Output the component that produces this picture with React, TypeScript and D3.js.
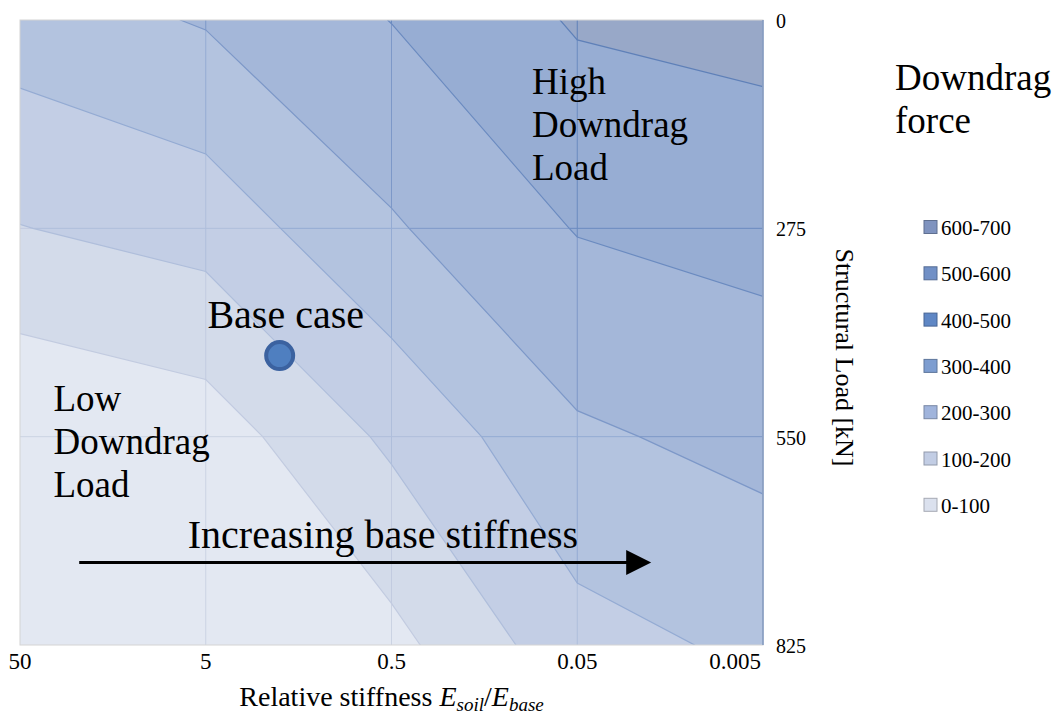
import * as d3 from "d3";

// --- data ---
const ratios = [50, 5, 0.5, 0.05, 0.005];
const ratioLabels = ["50", "5", "0.5", "0.05", "0.005"];
const loads = [0, 275, 550, 825];
const loadLabels = ["0", "275", "550", "825"];

// downdrag force [kN], one row per structural load, one value per stiffness ratio
const force0 = [350, 408, 502, 610, 631];
const force275 = [197, 240, 389, 505, 534];
const force550 = [5, 47, 220, 385, 430];
const force825 = [0, 10, 70, 264, 321];

const thresholds = [0, 100, 200, 300, 400, 500, 600];
const bandLabels = ["0-100", "100-200", "200-300", "300-400", "400-500", "500-600", "600-700"];

const baseCase = { ratio: 2, load: 443 };

// --- styles ---
const W = 1055;
const H = 724;
const PLOT = { left: 20, top: 20, right: 763, bottom: 645 };
const FONT = "'Liberation Serif', 'Times New Roman', serif";

const BAND_FILL = ["#e3e8f2", "#d3dbea", "#c3cee5", "#b3c3df", "#a4b7d9", "#97add3", "#98a8c8"];
const BAND_LINE = ["#cbd3e3", "#c2cbe0", "#afbedb", "#94abd3", "#7d98c8", "#6b8bc0", "#5f80b8"];
const SWATCH = ["#dbe1ee", "#c2cde4", "#a0b4dc", "#7d9dd0", "#5f87c5", "#7190c6", "#7f93bf"];

const LEGEND = { x: 924, y: 227, step: 46.3, box: 13, fontSize: 21 };

export default function App() {
  const x = d3.scaleLog().domain([ratios[0], ratios[ratios.length - 1]]).range([PLOT.left, PLOT.right]);
  const y = d3.scaleLinear().domain([loads[0], loads[loads.length - 1]]).range([PLOT.top, PLOT.bottom]);

  // d3.contours puts value i at grid coordinate i + 0.5
  const gx = d3.scaleLinear().domain([0.5, ratios.length - 0.5]).range([x(ratios[0]), x(ratios[ratios.length - 1])]);
  const gy = d3.scaleLinear().domain([0.5, loads.length - 0.5]).range([y(loads[0]), y(loads[loads.length - 1])]);

  const values = [...force0, ...force275, ...force550, ...force825];
  const bands = d3.contours().size([ratios.length, loads.length]).thresholds(thresholds)(values);

  const toPx = d3.geoTransform({
    point(px: number, py: number) {
      this.stream.point(gx(px), gy(py));
    },
  });
  const path = d3.geoPath(toPx);

  const vGrid = ratios.slice(1);
  const hGrid = loads.slice(1, -1);

  const arrowFrom = x(24);
  const arrowTo = x(0.02);
  const arrowY = y(716);

  return (
    <svg
      width={W}
      height={H}
      style={{ position: "absolute", left: 0, top: 0, background: "#fff" }}
      fontFamily={FONT}
    >
      <defs>
        <clipPath id="plot-clip">
          <rect x={PLOT.left} y={PLOT.top} width={PLOT.right - PLOT.left} height={PLOT.bottom - PLOT.top} />
        </clipPath>
        {bands.map((b, i) => (
          <clipPath id={`band-${i}`} key={i}>
            <path d={path(b) ?? ""} />
          </clipPath>
        ))}
      </defs>

      <g clipPath="url(#plot-clip)">
        {bands.map((b, i) => (
          <g key={i}>
            <path d={path(b) ?? ""} fill={BAND_FILL[i]} />
            <g clipPath={`url(#band-${i})`} stroke={BAND_LINE[i]} strokeWidth={1}>
              {vGrid.map((r) => (
                <line key={r} x1={x(r)} x2={x(r)} y1={PLOT.top} y2={PLOT.bottom} />
              ))}
              {hGrid.map((l) => (
                <line key={l} x1={PLOT.left} x2={PLOT.right} y1={y(l)} y2={y(l)} />
              ))}
            </g>
            <path d={path(b) ?? ""} fill="none" stroke={BAND_LINE[i]} strokeWidth={1.2} />
          </g>
        ))}
      </g>

      {/* plot border */}
      <rect
        x={PLOT.left}
        y={PLOT.top}
        width={PLOT.right - PLOT.left}
        height={PLOT.bottom - PLOT.top}
        fill="none"
        stroke="#d4d4d4"
        strokeWidth={1}
      />
      <line x1={PLOT.right} x2={PLOT.right} y1={PLOT.top} y2={PLOT.bottom} stroke="#7f97bf" strokeWidth={1.5} />

      {/* x axis */}
      {ratios.map((r, i) => {
        const last = i === ratios.length - 1;
        return (
          <text
            key={r}
            x={last ? x(r) - 2 : x(r)}
            y={669}
            fontSize={23}
            textAnchor={last ? "end" : "middle"}
            fill="#000"
          >
            {ratioLabels[i]}
          </text>
        );
      })}
      <text x={(PLOT.left + PLOT.right) / 2} y={706} fontSize={28} textAnchor="middle" fill="#000">
        Relative stiffness <tspan fontStyle="italic">E</tspan>
        <tspan fontStyle="italic" fontSize={19} dy={5}>soil</tspan>
        <tspan dy={-5}>/</tspan>
        <tspan fontStyle="italic">E</tspan>
        <tspan fontStyle="italic" fontSize={19} dy={5}>base</tspan>
      </text>

      {/* y axis (right) */}
      {loads.map((l, i) => (
        <text key={l} x={776} y={y(l) + 1} fontSize={20} dominantBaseline="central" fill="#000">
          {loadLabels[i]}
        </text>
      ))}
      <text
        transform={`translate(844, ${(PLOT.top + PLOT.bottom) / 2 + 25}) rotate(90)`}
        fontSize={26}
        textAnchor="middle"
        dominantBaseline="central"
        fill="#000"
      >
        Structural Load [kN]
      </text>

      {/* annotations */}
      <text x={x(0.0877)} y={y(98)} fontSize={37} fill="#000">
        <tspan x={x(0.0877)}>High</tspan>
        <tspan x={x(0.0877)} dy={43}>Downdrag</tspan>
        <tspan x={x(0.0877)} dy={43}>Load</tspan>
      </text>
      <text x={x(33)} y={y(516)} fontSize={37} fill="#000">
        <tspan x={x(33)}>Low</tspan>
        <tspan x={x(33)} dy={43}>Downdrag</tspan>
        <tspan x={x(33)} dy={43}>Load</tspan>
      </text>
      <text x={x(4.9)} y={y(406)} fontSize={40} fill="#000">
        Base case
      </text>
      <circle cx={x(baseCase.ratio)} cy={y(baseCase.load)} r={13.5} fill="#4f7fc0" stroke="#3b62a0" strokeWidth={4} />

      <text x={x(0.556)} y={y(697)} fontSize={40} textAnchor="middle" fill="#000">
        Increasing base stiffness
      </text>
      <line x1={arrowFrom} x2={arrowTo - 22} y1={arrowY} y2={arrowY} stroke="#000" strokeWidth={3} />
      <path
        d={`M${arrowTo},${arrowY} L${arrowTo - 25},${arrowY - 12.5} L${arrowTo - 25},${arrowY + 12.5} Z`}
        fill="#000"
      />

      {/* legend */}
      <text x={895} y={90} fontSize={37} fill="#000">
        <tspan x={895}>Downdrag</tspan>
        <tspan x={895} dy={43}>force</tspan>
      </text>
      {bandLabels
        .map((label, i) => ({ label, i }))
        .reverse()
        .map(({ label, i }, row) => {
          const cy = LEGEND.y + row * LEGEND.step;
          return (
            <g key={label}>
              <rect
                x={LEGEND.x}
                y={cy - LEGEND.box / 2}
                width={LEGEND.box}
                height={LEGEND.box}
                fill={SWATCH[i]}
                stroke={d3.color(SWATCH[i])?.darker(0.8).formatHex()}
                strokeWidth={1}
              />
              <text x={LEGEND.x + LEGEND.box + 4} y={cy + 1} fontSize={LEGEND.fontSize} dominantBaseline="central" fill="#000">
                {label}
              </text>
            </g>
          );
        })}
    </svg>
  );
}
